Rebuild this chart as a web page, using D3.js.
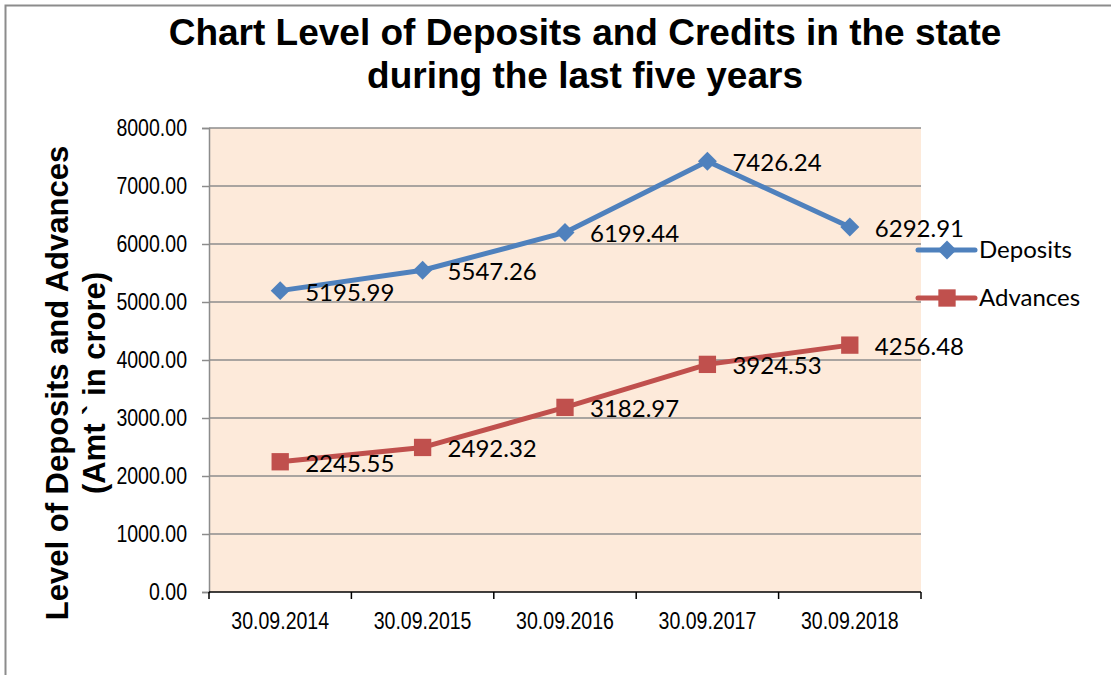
<!DOCTYPE html>
<html lang="en">
<head>
<meta charset="UTF-8">
<title>Deposits and Credits</title>
<script src="https://d3js.org/d3.v7.min.js"></script>
<style>
    body { margin: 0; background: #ffffff; }
    svg { display: block; }
</style>
</head>
<body>
<div id="chart"></div>
<script>
// data
const dates = ["30.09.2014", "30.09.2015", "30.09.2016", "30.09.2017", "30.09.2018"];
const deposits = [5195.99, 5547.26, 6199.44, 7426.24, 6292.91];
const advances = [2245.55, 2492.32, 3182.97, 3924.53, 4256.48];
const yTicks = [0, 1000, 2000, 3000, 4000, 5000, 6000, 7000, 8000];

const series = [
    {name: "Deposits", values: deposits, color: "#4F81BD", rot: 45, size: 180},
    {name: "Advances", values: advances, color: "#C0504D", rot: 0, size: 300}
];

const width = 1111, height = 675;
const plot = {left: 209, right: 921, top: 128, bottom: 592};
const axisFont = "'Liberation Sans', Arial, sans-serif";
const labelFont = "Lato, 'Open Sans', sans-serif";
const narrow = 0.85; // squeeze tick labels to look like a narrow face

const svg = d3.select("#chart").append("svg")
    .attr("width", width)
    .attr("height", height);

// outer chart border (runs off the page right and bottom)
svg.append("rect")
    .attr("x", 5.5).attr("y", 5.5)
    .attr("width", 1200).attr("height", 800)
    .attr("fill", "none")
    .attr("stroke", "#8c8c8c")
    .attr("stroke-width", 2);

const x = d3.scaleBand()
    .domain(dates)
    .range([plot.left, plot.right]);

const y = d3.scaleLinear()
    .domain([0, 8000])
    .range([plot.bottom, plot.top]);

// plot background
svg.append("rect")
    .attr("x", plot.left).attr("y", plot.top)
    .attr("width", plot.right - plot.left)
    .attr("height", plot.bottom - plot.top)
    .attr("fill", "#FDEADA");

// gridlines
svg.append("g")
    .selectAll("line")
    .data(yTicks.filter(d => d > 0))
    .join("line")
    .attr("x1", plot.left).attr("x2", plot.right)
    .attr("y1", d => y(d)).attr("y2", d => y(d))
    .attr("stroke", "#8c8c8c")
    .attr("stroke-width", 1.5);

// y axis
const yAxis = svg.append("g")
    .attr("transform", `translate(${plot.left},0)`)
    .call(d3.axisLeft(y).tickValues(yTicks).tickFormat(d3.format(".2f")).tickSize(7));
yAxis.select(".domain").attr("stroke", "#8c8c8c").attr("stroke-width", 1.5);
yAxis.selectAll(".tick line").attr("stroke", "#8c8c8c").attr("stroke-width", 1.5);
yAxis.selectAll("text")
    .attr("x", -22 / narrow)
    .attr("transform", `scale(${narrow},1)`)
    .attr("font-family", axisFont)
    .attr("font-size", "23px")
    .attr("fill", "#000");

// x axis, ticks on category boundaries
const xAxis = svg.append("g")
    .attr("transform", `translate(0,${plot.bottom})`);
xAxis.append("line")
    .attr("x1", plot.left).attr("x2", plot.right)
    .attr("stroke", "#000").attr("stroke-width", 1.5);
const bounds = dates.map(d => x(d)).concat([plot.right]);
xAxis.selectAll(".xt")
    .data(bounds)
    .join("line")
    .attr("class", "xt")
    .attr("x1", d => d).attr("x2", d => d)
    .attr("y1", 0).attr("y2", 7)
    .attr("stroke", "#000").attr("stroke-width", 1.5);
xAxis.selectAll("text")
    .data(dates)
    .join("text")
    .attr("transform", d => `translate(${x(d) + x.bandwidth() / 2},37) scale(${narrow},1)`)
    .attr("text-anchor", "middle")
    .attr("font-family", axisFont)
    .attr("font-size", "23px")
    .text(d => d);

// lines, markers and data labels
const line = d3.line()
    .x((d, i) => x(dates[i]) + x.bandwidth() / 2)
    .y(d => y(d));

const marker = s => d3.symbol().type(d3.symbolSquare).size(s.size)();

series.forEach(s => {
    svg.append("path")
        .datum(s.values)
        .attr("fill", "none")
        .attr("stroke", s.color)
        .attr("stroke-width", 5)
        .attr("stroke-linejoin", "round")
        .attr("d", line);

    svg.append("g")
        .selectAll("path")
        .data(s.values)
        .join("path")
        .attr("transform", (d, i) => `translate(${x(dates[i]) + x.bandwidth() / 2},${y(d)}) rotate(${s.rot})`)
        .attr("d", marker(s))
        .attr("fill", s.color);

    svg.append("g")
        .selectAll("text")
        .data(s.values)
        .join("text")
        .attr("x", (d, i) => x(dates[i]) + x.bandwidth() / 2 + 25)
        .attr("y", d => y(d) + 10)
        .attr("font-family", labelFont)
        .attr("font-size", "24px")
        .text(d => d.toFixed(2));
});

// legend
const legend = svg.append("g")
    .selectAll("g")
    .data(series)
    .join("g")
    .attr("transform", (d, i) => `translate(918,${250 + i * 48})`);
legend.append("line")
    .attr("x1", 0).attr("x2", 57)
    .attr("stroke", d => d.color)
    .attr("stroke-width", 5)
    .attr("stroke-linecap", "round");
legend.append("path")
    .attr("transform", d => `translate(29,0) rotate(${d.rot})`)
    .attr("d", d => marker(d))
    .attr("fill", d => d.color);
legend.append("text")
    .attr("x", 61)
    .attr("y", 8)
    .attr("font-family", labelFont)
    .attr("font-size", "24px")
    .text(d => d.name);

// title
const title = svg.append("text")
    .attr("text-anchor", "middle")
    .attr("font-family", axisFont)
    .attr("font-weight", "bold")
    .attr("font-size", "37px");
title.append("tspan").attr("x", 585).attr("y", 45).text("Chart Level of Deposits and Credits in the state");
title.append("tspan").attr("x", 585).attr("y", 88).text("during the last five years");

// y axis title
const yTitle = svg.append("text")
    .attr("transform", "translate(0,383) rotate(-90)")
    .attr("text-anchor", "middle")
    .attr("font-family", axisFont)
    .attr("font-weight", "bold")
    .attr("font-size", "31px");
yTitle.append("tspan").attr("x", 0).attr("y", 68).text("Level of Deposits and Advances");
yTitle.append("tspan").attr("x", 0).attr("y", 105).text("(Amt ` in crore)");
</script>
</body>
</html>
